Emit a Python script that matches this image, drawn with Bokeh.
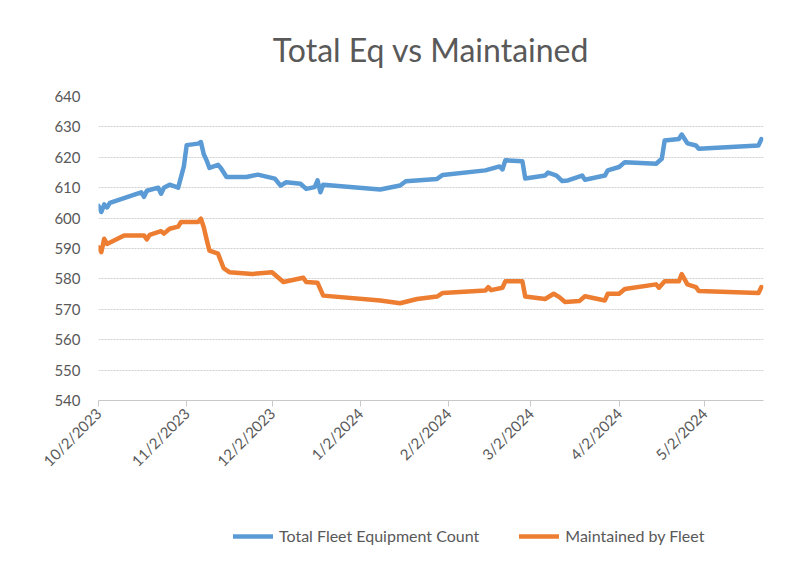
import math
import pandas as pd
from bokeh.plotting import figure
from bokeh.layouts import column
from bokeh.models import (Range1d, FixedTicker, CustomJSTickFormatter, Legend,
                          LegendItem, ColumnDataSource)
from bokeh.embed import file_html
from bokeh.resources import INLINE

# ---------------- data ----------------
total_dates = [
    "2023-10-02", "2023-10-03", "2023-10-04", "2023-10-05", "2023-10-06",
    "2023-10-17", "2023-10-18", "2023-10-19", "2023-10-23", "2023-10-24",
    "2023-10-25", "2023-10-27", "2023-10-30", "2023-10-31", "2023-11-01",
    "2023-11-02", "2023-11-06", "2023-11-07", "2023-11-08", "2023-11-09",
    "2023-11-10", "2023-11-13", "2023-11-14", "2023-11-16", "2023-11-23",
    "2023-11-27", "2023-12-03", "2023-12-05", "2023-12-07", "2023-12-12",
    "2023-12-14", "2023-12-17", "2023-12-18", "2023-12-19", "2023-12-20",
    "2024-01-09", "2024-01-16", "2024-01-18", "2024-01-29", "2024-01-31",
    "2024-02-15", "2024-02-20", "2024-02-21", "2024-02-22", "2024-02-28",
    "2024-02-29", "2024-03-07", "2024-03-08", "2024-03-11", "2024-03-13",
    "2024-03-15", "2024-03-20", "2024-03-21", "2024-03-28", "2024-03-29",
    "2024-04-02", "2024-04-04", "2024-04-15", "2024-04-17", "2024-04-18",
    "2024-04-23", "2024-04-24", "2024-04-26", "2024-04-29", "2024-04-30",
    "2024-05-21", "2024-05-22",
]
total_values = [
    604, 602, 604.5, 603.5, 605,
    608.5, 607, 609, 610, 608,
    610, 611, 610, 613.5, 617,
    624, 624.5, 625, 621, 619,
    616.5, 617.5, 616.5, 613.5, 613.5,
    614.3, 613, 610.7, 611.8, 611.3,
    609.6, 610.2, 612.4, 608.5, 611,
    609.4, 610.7, 612.1, 612.9, 614.2,
    615.7, 617, 616, 619, 618.7,
    613, 614, 615, 614, 612.2,
    612.4, 614, 612.6, 614, 615.7,
    616.8, 618.4, 617.9, 619.5, 625.5,
    626, 627.5, 624.6, 623.9, 622.8,
    623.9, 626,
]

maint_dates = [
    "2023-10-02", "2023-10-03", "2023-10-04", "2023-10-05", "2023-10-11",
    "2023-10-18", "2023-10-19", "2023-10-20", "2023-10-24", "2023-10-25",
    "2023-10-27", "2023-10-30", "2023-10-31", "2023-11-06", "2023-11-07",
    "2023-11-08", "2023-11-09", "2023-11-10", "2023-11-13", "2023-11-15",
    "2023-11-17", "2023-11-25", "2023-12-02", "2023-12-06", "2023-12-13",
    "2023-12-14", "2023-12-18", "2023-12-20", "2024-01-09", "2024-01-16",
    "2024-01-22", "2024-01-29", "2024-01-31", "2024-02-15", "2024-02-16",
    "2024-02-17", "2024-02-21", "2024-02-22", "2024-02-28", "2024-02-29",
    "2024-03-07", "2024-03-10", "2024-03-12", "2024-03-14", "2024-03-19",
    "2024-03-21", "2024-03-28", "2024-03-29", "2024-04-02", "2024-04-04",
    "2024-04-15", "2024-04-16", "2024-04-18", "2024-04-23", "2024-04-24",
    "2024-04-26", "2024-04-29", "2024-04-30", "2024-05-21", "2024-05-22",
]
maint_values = [
    590.4, 588.8, 593.2, 591.5, 594.3,
    594.3, 593, 594.5, 595.7, 594.9,
    596.5, 597.2, 598.7, 598.7, 599.8,
    597, 593, 589.3, 588.3, 583.5,
    582.2, 581.6, 582.2, 579, 580.4,
    579, 578.7, 574.5, 572.9, 572,
    573.4, 574.2, 575.4, 576.2, 577.3,
    576.3, 577.1, 579.2, 579.2, 574.2,
    573.4, 575.1, 574, 572.4, 572.7,
    574.3, 572.9, 575.1, 575.1, 576.7,
    578.2, 577.1, 579.2, 579.2, 581.6,
    578.2, 577.3, 576, 575.4, 577.3,
]

tick_dates = ["2023-10-02", "2023-11-02", "2023-12-02", "2024-01-02",
              "2024-02-02", "2024-03-02", "2024-04-02", "2024-05-02"]
x_start, x_end = "2023-10-02", "2024-05-22 18:00"
y_ticks = [540, 550, 560, 570, 580, 590, 600, 610, 620, 630, 640]

series_names = ["Total Fleet Equipment Count", "Maintained by Fleet"]
series_colors = ["#5B9BD5", "#ED7D31"]

# ---------------- plot ----------------
FONT = "Lato"
TXT = "#595959"
W = 778

def ms(s):
    return pd.Timestamp(s).value / 1e6

p = figure(width=W, height=490, x_axis_type="datetime",
           output_backend="svg", toolbar_location=None,
           x_range=Range1d(ms(x_start), ms(x_end)),
           y_range=Range1d(y_ticks[0], y_ticks[-1]),
           min_border_left=98, min_border_right=15,
           min_border_top=96, min_border_bottom=90)

p.title.text = "Total Eq vs Maintained"
p.title.align = "center"
p.title.text_font = FONT
p.title.text_font_size = "32px"
p.title.text_font_style = "normal"
p.title.text_color = TXT
p.title.offset = 0
p.title.standoff = 55

p.outline_line_color = None
p.background_fill_color = "white"
p.border_fill_color = "white"

src_t = ColumnDataSource(dict(x=[pd.Timestamp(d) for d in total_dates], y=total_values))
src_m = ColumnDataSource(dict(x=[pd.Timestamp(d) for d in maint_dates], y=maint_values))
line_kw = dict(line_width=4.5, line_join="round", line_cap="round")
p.line("x", "y", source=src_t, line_color=series_colors[0], **line_kw)
p.line("x", "y", source=src_m, line_color=series_colors[1], **line_kw)

# y axis
p.yaxis.ticker = FixedTicker(ticks=y_ticks)
p.yaxis.axis_line_color = None
p.yaxis.major_tick_line_color = None
p.yaxis.minor_tick_line_color = None
p.yaxis.major_label_text_font = FONT
p.yaxis.major_label_text_font_size = "15px"
p.yaxis.major_label_text_color = TXT
p.yaxis.major_label_standoff = 12

p.ygrid.ticker = FixedTicker(ticks=y_ticks)
p.ygrid.grid_line_color = "#cfcfcf"
p.ygrid.grid_line_dash = "2 1"
p.ygrid.grid_line_width = 1
p.xgrid.grid_line_color = None

# x axis
p.xaxis.ticker = FixedTicker(ticks=[ms(d) for d in tick_dates])
p.xaxis.formatter = CustomJSTickFormatter(code="""
    const d = new Date(tick);
    return (d.getUTCMonth() + 1) + "/" + d.getUTCDate() + "/" + d.getUTCFullYear();
""")
p.xaxis.major_label_orientation = math.pi / 4
p.xaxis.axis_line_color = "#c8c8c8"
p.xaxis.major_tick_line_color = "#c8c8c8"
p.xaxis.major_tick_out = 6
p.xaxis.major_tick_in = 0
p.xaxis.minor_tick_line_color = None
p.xaxis.major_label_text_font = FONT
p.xaxis.major_label_text_font_size = "15px"
p.xaxis.major_label_text_color = TXT
p.xaxis.major_label_standoff = 4

# legend strip below the chart (same series, ranges keep the lines out of view)
lg = figure(width=W, height=77, output_backend="svg", toolbar_location=None,
            x_axis_location=None, y_axis_location=None,
            x_range=Range1d(0, 1), y_range=Range1d(0, 1),
            min_border=0, outline_line_color=None)
lg.grid.visible = False
k1 = lg.line("x", "y", source=src_t, line_color=series_colors[0], **line_kw)
k2 = lg.line("x", "y", source=src_m, line_color=series_colors[1], **line_kw)
legend = Legend(items=[LegendItem(label=series_names[0], renderers=[k1]),
                       LegendItem(label=series_names[1], renderers=[k2])],
                orientation="horizontal", location=(135, 22),
                label_text_font=FONT, label_text_font_size="16px",
                label_text_color=TXT, glyph_width=40, glyph_height=12,
                spacing=40, label_standoff=6, border_line_color=None,
                background_fill_alpha=0, margin=0, padding=0)
lg.add_layout(legend, "center")

open("out.html", "w").write(file_html(column(p, lg, spacing=0), INLINE))
